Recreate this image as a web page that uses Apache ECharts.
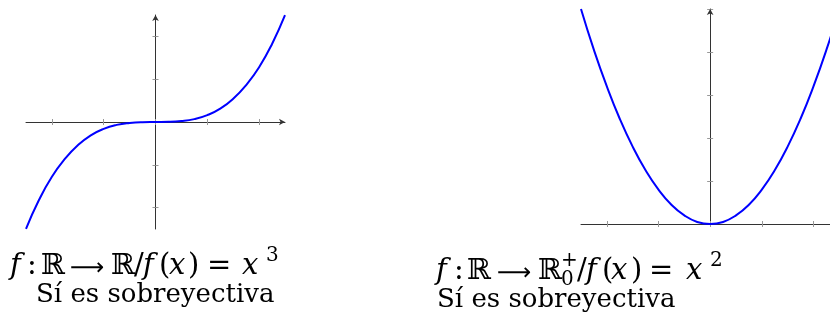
<!DOCTYPE html>
<html>
<head>
<meta charset="utf-8">
<script src="https://cdn.jsdelivr.net/npm/echarts@6/dist/echarts.min.js"></script>
<style>
  html, body { margin: 0; padding: 0; background: #fff; }
  #chart { width: 830px; height: 334px; }
</style>
</head>
<body>
<div id="chart"></div>
<script>
// puntos (izquierda: cúbica, derecha: parábola)
const cubicX = [-2.5, -2.25, -2, -1.75, -1.5, -1.25, -1, -0.75, -0.5, -0.25, 0, 0.25, 0.5, 0.75, 1, 1.25, 1.5, 1.75, 2, 2.25, 2.5];
const cubicY = [-15.6, -11.4, -8, -5.4, -3.4, -1.95, -1, -0.42, -0.13, -0.02, 0, 0.02, 0.13, 0.42, 1, 1.95, 3.4, 5.4, 8, 11.4, 15.6];
const paraX = [-2.5, -2.25, -2, -1.75, -1.5, -1.25, -1, -0.75, -0.5, -0.25, 0, 0.25, 0.5, 0.75, 1, 1.25, 1.5, 1.75, 2, 2.25, 2.5];
const paraY = [6.25, 5.06, 4, 3.06, 2.25, 1.56, 1, 0.56, 0.25, 0.06, 0, 0.06, 0.25, 0.56, 1, 1.56, 2.25, 3.06, 4, 5.06, 6.25];

const xTicks = [-2, -1, 0, 1, 2];
const cubicTicks = [-12.5, -6.25, 6.25, 12.5];
const paraTicks = [1.25, 2.5, 3.75, 5, 6.25];

const caption = 'Sí es sobreyectiva';

const AXIS = '#333';
const TICK = '#999';
const serif = '"DejaVu Serif", "Liberation Serif", serif';
const FS = 29;   // cuerpo de la fórmula
const AS = 24;   // flecha
const SS = 20;   // índices

const chart = echarts.init(document.getElementById('chart'), null, { renderer: 'canvas' });

// eje con línea + flecha y marcas hacia afuera, y un gemelo con marcas hacia adentro
function xAxes(grid, max, arrow) {
  const base = {
    type: 'value', gridIndex: grid, min: -2.5, max,
    splitLine: { show: false }, axisLabel: { show: false },
  };
  return [
    { ...base, axisLine: { onZero: true, symbol: ['none', arrow ? 'arrow' : 'none'], symbolSize: [5, 6], lineStyle: { color: AXIS, width: 1 } },
      axisTick: { customValues: xTicks, length: 3, lineStyle: { color: TICK } } },
    { ...base, position: 'bottom', axisLine: { show: false, onZero: true },
      axisTick: { customValues: xTicks, length: 3, inside: true, lineStyle: { color: TICK } } },
  ];
}
function yAxes(grid, min, max, ticks) {
  const base = {
    type: 'value', gridIndex: grid, min, max,
    splitLine: { show: false }, axisLabel: { show: false },
  };
  return [
    { ...base, axisLine: { onZero: true, symbol: ['none', 'arrow'], symbolSize: [5, 6], lineStyle: { color: AXIS, width: 1 } },
      axisTick: { customValues: ticks, length: 3, lineStyle: { color: TICK } } },
    { ...base, position: 'left', axisLine: { show: false, onZero: true },
      axisTick: { customValues: ticks, length: 3, inside: true, lineStyle: { color: TICK } } },
  ];
}

// fórmula armada pieza por pieza, como en LaTeX
function piece(text, x, base, size = FS, italic = false, family = serif) {
  return {
    type: 'text', x, y: base - size * 0.36,
    style: { text, fontFamily: family, fontSize: size, fontStyle: italic ? 'italic' : 'normal',
      fill: '#000', verticalAlign: 'middle', align: 'left' },
  };
}
const arrowFont = '"DejaVu Sans", sans-serif';

function leftFormula(b) {
  return [
    piece('f', 10, b, FS, true),
    piece(':', 27, b),
    piece('ℝ', 41, b),
    piece('⟶', 70, b, AS, false, arrowFont),
    piece('ℝ', 111, b),
    piece('/', 134, b),
    piece('f', 143, b, FS, true),
    piece('(', 159, b),
    piece('x', 169, b, FS, true),
    piece(')', 188, b),
    piece('=', 207, b),
    piece('x', 242, b, FS, true),
    piece('3', 266, b - 14, SS),
  ];
}
function rightFormula(b) {
  return [
    piece('f', 436, b, FS, true),
    piece(':', 454, b),
    piece('ℝ', 467, b),
    piece('⟶', 497, b, AS, false, arrowFont),
    piece('ℝ', 538, b),
    piece('+', 561, b - 14, SS),
    piece('0', 561, b + 5, SS),
    piece('/', 577, b),
    piece('f', 586, b, FS, true),
    piece('(', 602, b),
    piece('x', 611, b, FS, true),
    piece(')', 631, b),
    piece('=', 649, b),
    piece('x', 686, b, FS, true),
    piece('2', 710, b - 14, SS),
  ];
}

chart.setOption({
  animation: false,
  grid: [
    { left: 26, top: 15, width: 259, height: 214 },
    { left: 581, top: 9, width: 249, height: 215 },
  ],
  xAxis: [...xAxes(0, 2.5, true), ...xAxes(1, 2.32, false)],
  yAxis: [...yAxes(0, -15.625, 15.625, cubicTicks), ...yAxes(1, 0, 6.25, paraTicks)].map((a, k) => ({ ...a, gridIndex: k < 2 ? 0 : 1 })),
  series: [
    { type: 'line', xAxisIndex: 0, yAxisIndex: 0, data: cubicX.map((x, k) => [x, cubicY[k]]),
      smooth: true, symbol: 'none', lineStyle: { color: '#0000ff', width: 2 } },
    { type: 'line', xAxisIndex: 2, yAxisIndex: 2, data: paraX.map((x, k) => [x, paraY[k]]),
      smooth: true, symbol: 'none', lineStyle: { color: '#0000ff', width: 2 } },
  ],
  graphic: [
    ...leftFormula(277),
    piece(caption, 36, 305, 26),
    ...rightFormula(282),
    piece(caption, 437, 310, 26),
  ],
});
</script>
</body>
</html>
